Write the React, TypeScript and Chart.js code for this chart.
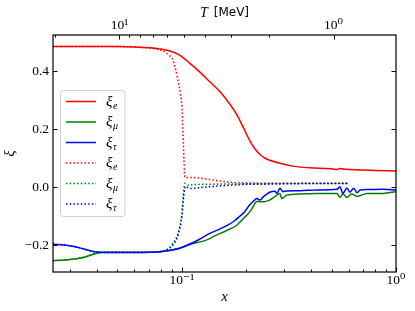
import { useEffect, useRef } from 'react';
import { Chart, registerables } from 'chart.js';

Chart.register(...registerables);

// ---- axes ----
const ME = 0.511; // T = m_e / x  [MeV]
const X_MIN = 0.025;
const X_MAX = 1;
const Y_MIN = -0.293;
const Y_MAX = 0.524;

const xTickValues = [0.03, 0.04, 0.05, 0.06, 0.07, 0.08, 0.09, 0.1, 0.2, 0.3, 0.4, 0.5, 0.6, 0.7, 0.8, 0.9, 1];
const xMajor = [0.1, 1];
const xMajorLabels = ['10⁻¹', '10⁰'];

const tTickValues = [1, 2, 3, 4, 5, 6, 7, 8, 9, 10, 20];
const tMajor = [1, 10];
const tMajorLabels = ['10⁰', '10¹'];

const yTickValues = [-0.2, 0, 0.2, 0.4];
const yTickLabels = ['−0.2', '0.0', '0.2', '0.4'];

// ---- series ----
const seriesNames = ['ξ_e', 'ξ_μ', 'ξ_τ', 'ξ_e', 'ξ_μ', 'ξ_τ'];
const seriesColors = ['#ff0000', '#008000', '#0000ff', '#ff0000', '#008000', '#0000ff'];
const seriesDotted = [false, false, false, true, true, true];

const eSolidX = [0.025, 0.04, 0.05, 0.06, 0.0708, 0.0789, 0.0878, 0.0977, 0.109, 0.121, 0.135, 0.15, 0.167, 0.181, 0.193, 0.208, 0.22, 0.231, 0.244, 0.257, 0.287, 0.33, 0.396, 0.5, 0.53, 0.545, 0.58, 0.679, 0.8, 1.0];
const eSolidY = [0.484, 0.484, 0.484, 0.483, 0.480, 0.476, 0.469, 0.455, 0.426, 0.397, 0.363, 0.330, 0.287, 0.248, 0.207, 0.158, 0.130, 0.113, 0.100, 0.092, 0.082, 0.072, 0.066, 0.063, 0.060, 0.064, 0.061, 0.059, 0.057, 0.055];

const muSolidX = [0.025, 0.03, 0.035, 0.0401, 0.045, 0.0708, 0.0789, 0.09, 0.0977, 0.1125, 0.121, 0.135, 0.14, 0.162, 0.181, 0.19, 0.201, 0.208, 0.215, 0.224, 0.239, 0.257, 0.272, 0.287, 0.293, 0.309, 0.356, 0.427, 0.53, 0.547, 0.565, 0.59, 0.62, 0.658, 0.731, 0.869, 1.0];
const muSolidY = [-0.254, -0.250, -0.242, -0.228, -0.225, -0.225, -0.223, -0.217, -0.211, -0.195, -0.190, -0.178, -0.171, -0.150, -0.131, -0.115, -0.097, -0.085, -0.068, -0.050, -0.051, -0.045, -0.033, -0.022, -0.040, -0.028, -0.024, -0.022, -0.022, -0.036, -0.024, -0.036, -0.024, -0.032, -0.022, -0.022, -0.016];

const tauSolidX = [0.025, 0.0284, 0.033, 0.0401, 0.05, 0.0708, 0.0789, 0.09, 0.0977, 0.1125, 0.121, 0.135, 0.15, 0.162, 0.175, 0.187, 0.195, 0.201, 0.208, 0.215, 0.224, 0.231, 0.239, 0.249, 0.257, 0.272, 0.278, 0.287, 0.296, 0.309, 0.356, 0.427, 0.53, 0.547, 0.565, 0.59, 0.609, 0.635, 0.658, 0.679, 0.731, 0.869, 1.0];
const tauSolidY = [-0.197, -0.200, -0.209, -0.224, -0.226, -0.225, -0.223, -0.217, -0.211, -0.192, -0.180, -0.160, -0.145, -0.133, -0.118, -0.100, -0.088, -0.075, -0.060, -0.050, -0.040, -0.045, -0.035, -0.025, -0.018, -0.015, -0.022, -0.004, -0.016, -0.014, -0.013, -0.010, -0.008, 0.001, -0.022, -0.003, -0.018, -0.004, -0.020, -0.010, -0.009, -0.008, -0.010];

const eDotX = [0.025, 0.04, 0.05, 0.06, 0.0708, 0.0789, 0.0815, 0.0865, 0.0908, 0.0958, 0.0985, 0.1, 0.101, 0.102, 0.103, 0.104, 0.11, 0.12, 0.14, 0.17, 0.2, 0.3, 0.45, 0.6];
const eDotY = [0.484, 0.484, 0.484, 0.483, 0.479, 0.473, 0.470, 0.455, 0.438, 0.369, 0.320, 0.276, 0.203, 0.120, 0.040, 0.032, 0.033, 0.031, 0.024, 0.016, 0.014, 0.013, 0.013, 0.013];

const muDotX = [0.025, 0.03, 0.035, 0.0401, 0.045, 0.0708, 0.0764, 0.0851, 0.0908, 0.0958, 0.1, 0.102, 0.103, 0.1067, 0.12, 0.15, 0.2, 0.3, 0.45, 0.6];
const muDotY = [-0.254, -0.250, -0.242, -0.228, -0.225, -0.225, -0.223, -0.215, -0.194, -0.160, -0.091, -0.010, 0.013, 0.007, 0.009, 0.010, 0.011, 0.012, 0.012, 0.012];

const tauDotX = [0.025, 0.0284, 0.033, 0.0401, 0.05, 0.0708, 0.0764, 0.0851, 0.0908, 0.0958, 0.1, 0.102, 0.104, 0.107, 0.109, 0.13, 0.16, 0.2, 0.26, 0.3, 0.45, 0.6];
const tauDotY = [-0.197, -0.200, -0.209, -0.224, -0.226, -0.225, -0.224, -0.217, -0.200, -0.168, -0.100, -0.030, 0.002, -0.003, -0.005, 0.000, 0.005, 0.009, 0.010, 0.011, 0.012, 0.012];

const seriesX = [eSolidX, muSolidX, tauSolidX, eDotX, muDotX, tauDotX];
const seriesY = [eSolidY, muSolidY, tauSolidY, eDotY, muDotY, tauDotY];

const SERIF = '"Liberation Serif", "DejaVu Serif", serif';
const SANS = '"DejaVu Sans", sans-serif';

function near(a: number, b: number) {
  return Math.abs(a - b) < 1e-9 * Math.max(1, Math.abs(b));
}

const decorPlugin = {
  id: 'decor',
  afterDraw(chart: any) {
    const ctx: CanvasRenderingContext2D = chart.ctx;
    const { left, right, top, bottom } = chart.chartArea;
    ctx.save();
    ctx.strokeStyle = '#000';
    ctx.lineWidth = 1;
    const MAJ = 4.5;
    const MIN = 2.5;
    // bottom x ticks
    const sx = chart.scales.x;
    xTickValues.forEach((v) => {
      const p = Math.round(sx.getPixelForValue(v)) + 0.5;
      const len = xMajor.some((m) => near(m, v)) ? MAJ : MIN;
      ctx.beginPath();
      ctx.moveTo(p, bottom);
      ctx.lineTo(p, bottom - len);
      ctx.stroke();
    });
    // top T ticks
    const st = chart.scales.xTop;
    tTickValues.forEach((v) => {
      const p = Math.round(st.getPixelForValue(v)) + 0.5;
      if (p < left || p > right) return;
      const len = tMajor.some((m) => near(m, v)) ? MAJ : MIN;
      ctx.beginPath();
      ctx.moveTo(p, top);
      ctx.lineTo(p, top + len);
      ctx.stroke();
    });
    // y ticks on both sides
    const sy = chart.scales.y;
    yTickValues.forEach((v) => {
      const p = Math.round(sy.getPixelForValue(v)) + 0.5;
      ctx.beginPath();
      ctx.moveTo(left, p);
      ctx.lineTo(left + MAJ, p);
      ctx.moveTo(right, p);
      ctx.lineTo(right - MAJ, p);
      ctx.stroke();
    });
    // frame
    ctx.lineWidth = 1.2;
    ctx.strokeRect(left, top, right - left, bottom - top);

    // top axis title: T [MeV]
    ctx.fillStyle = '#000';
    ctx.textBaseline = 'middle';
    ctx.textAlign = 'left';
    const tText = 'T';
    const mText = '[MeV]';
    ctx.font = `italic 14px ${SERIF}`;
    const wT = ctx.measureText(tText).width;
    ctx.font = `12px ${SANS}`;
    const wM = ctx.measureText(mText).width;
    const gap = 6;
    const cx = (left + right) / 2;
    const x0 = cx - (wT + gap + wM) / 2;
    ctx.font = `italic 14px ${SERIF}`;
    ctx.fillText(tText, x0, 13);
    ctx.font = `12px ${SANS}`;
    ctx.fillText(mText, x0 + wT + gap, 13);

    // legend
    const bx = 60.5, by = 90.5, bw = 64.5, bh = 126;
    ctx.beginPath();
    (ctx as any).roundRect(bx, by, bw, bh, 3);
    ctx.fillStyle = 'rgba(255,255,255,0.8)';
    ctx.fill();
    ctx.strokeStyle = '#d0d0d0';
    ctx.lineWidth = 1;
    ctx.stroke();
    const rowY0 = 101.5;
    const rowStep = 20.5;
    seriesNames.forEach((name, i) => {
      const y = rowY0 + i * rowStep;
      ctx.save();
      ctx.strokeStyle = seriesColors[i];
      ctx.lineWidth = 1.5;
      if (seriesDotted[i]) ctx.setLineDash([1.5, 2.2]);
      ctx.beginPath();
      ctx.moveTo(66, y);
      ctx.lineTo(96, y);
      ctx.stroke();
      ctx.restore();
      const [base, sub] = name.split('_');
      ctx.fillStyle = '#000';
      ctx.textBaseline = 'alphabetic';
      ctx.font = `italic 15px ${SERIF}`;
      ctx.fillText(base, 106, y + 4);
      const wb = ctx.measureText(base).width;
      ctx.font = `italic 10px ${SERIF}`;
      ctx.fillText(sub, 106 + wb + 0.5, y + 7);
    });
    ctx.restore();
  },
};

export default function App() {
  const ref = useRef<HTMLCanvasElement | null>(null);
  useEffect(() => {
    document.body.style.margin = '0';
    const canvas = ref.current;
    if (!canvas) return;
    const datasets = seriesNames.map((name, i) => ({
      label: name,
      data: seriesX[i].map((x, k) => ({ x, y: seriesY[i][k] })),
      borderColor: seriesColors[i],
      backgroundColor: seriesColors[i],
      borderWidth: 1.5,
      borderDash: seriesDotted[i] ? [1.5, 2.2] : [],
      pointRadius: 0,
      fill: false,
      tension: 0,
      cubicInterpolationMode: 'monotone' as const,
      order: seriesNames.length - i,
      xAxisID: 'x',
      yAxisID: 'y',
    }));
    const chart = new Chart(canvas, {
      type: 'line',
      data: { datasets },
      options: {
        animation: false,
        responsive: false,
        devicePixelRatio: 1,
        layout: { padding: { left: 0, right: 19, top: 0, bottom: 0 } },
        plugins: { legend: { display: false }, tooltip: { enabled: false } },
        scales: {
          x: {
            type: 'logarithmic',
            position: 'bottom',
            min: X_MIN,
            max: X_MAX,
            grid: { display: false, drawTicks: false },
            border: { display: false },
            afterBuildTicks: (s: any) => {
              s.ticks = xTickValues.map((v) => ({ value: v, major: xMajor.some((m) => near(m, v)) }));
            },
            afterFit: (s: any) => {
              s.height = 39;
            },
            ticks: {
              autoSkip: false,
              maxRotation: 0,
              minRotation: 0,
              padding: 0,
              color: '#000',
              font: { family: SERIF, size: 13.5 },
              callback: (v: any) => {
                const k = xMajor.findIndex((m) => near(m, Number(v)));
                return k >= 0 ? xMajorLabels[k] : '';
              },
            },
            title: {
              display: true,
              text: 'x',
              color: '#000',
              font: { family: SERIF, size: 15, style: 'italic' },
              padding: { top: 0, bottom: 5 },
            },
          },
          xTop: {
            type: 'logarithmic',
            position: 'top',
            reverse: true,
            min: ME / X_MAX,
            max: ME / X_MIN,
            grid: { display: false, drawTicks: false },
            border: { display: false },
            afterBuildTicks: (s: any) => {
              s.ticks = tTickValues.map((v) => ({ value: v, major: tMajor.some((m) => near(m, v)) }));
            },
            afterFit: (s: any) => {
              s.height = 35;
            },
            ticks: {
              autoSkip: false,
              maxRotation: 0,
              minRotation: 0,
              padding: 1,
              color: '#000',
              font: { family: SERIF, size: 13.5 },
              callback: (v: any) => {
                const k = tMajor.findIndex((m) => near(m, Number(v)));
                return k >= 0 ? tMajorLabels[k] : '';
              },
            },
          },
          y: {
            type: 'linear',
            position: 'left',
            min: Y_MIN,
            max: Y_MAX,
            grid: { display: false, drawTicks: false },
            border: { display: false },
            afterBuildTicks: (s: any) => {
              s.ticks = yTickValues.map((v) => ({ value: v }));
            },
            afterFit: (s: any) => {
              s.width = 53;
            },
            ticks: {
              padding: 4,
              color: '#000',
              font: { family: SERIF, size: 13.5 },
              callback: (v: any) => {
                const k = yTickValues.findIndex((m) => Math.abs(m - Number(v)) < 1e-6);
                return k >= 0 ? yTickLabels[k] : '';
              },
            },
            title: {
              display: true,
              text: 'ξ',
              color: '#000',
              font: { family: SERIF, size: 15, style: 'italic' },
              padding: { top: 1, bottom: 0 },
            },
          },
        },
      },
      plugins: [decorPlugin],
    } as any);
    return () => chart.destroy();
  }, []);
  return (
    <div style={{ position: 'fixed', left: 0, top: 0, width: 415, height: 311, background: '#fff' }}>
      <canvas ref={ref} width={415} height={311} style={{ display: 'block', width: 415, height: 311 }} />
    </div>
  );
}
